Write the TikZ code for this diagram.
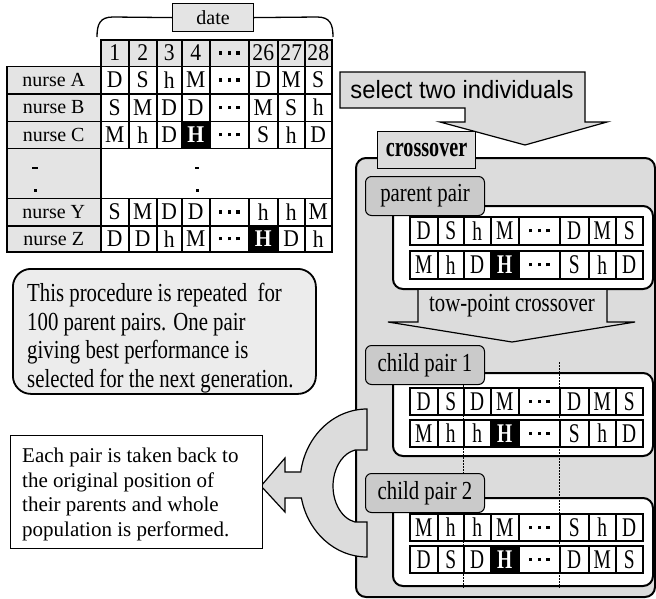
\documentclass[tikz,border=0pt]{standalone}
\usepackage{fontspec}
\setmainfont{Liberation Serif}
\newfontfamily\selfont[FakeStretch=0.95]{Liberation Sans}
\newfontfamily\stA[FakeStretch=0.72]{Liberation Serif}
\newfontfamily\stB[FakeStretch=0.8]{Liberation Serif}
\newfontfamily\stC[FakeStretch=0.9]{Liberation Serif}
\definecolor{lg}{HTML}{DCDCDC}
\definecolor{mg}{HTML}{CACACA}
\definecolor{tg}{HTML}{E4E4E4}
\definecolor{bg}{HTML}{ECECEC}
\newcommand\myfs[1]{\fontsize{#1}{#1}\selectfont}
\newcommand\dts{\rule{3.2pt}{3.2pt}\hspace{5.5pt}\rule{3.2pt}{3.2pt}\hspace{5.5pt}\rule{3.2pt}{3.2pt}}
\def\tabX{{100,128,156,181,209,248,277,304,331}}
\def\crX{{409,437,463,490,518,559,588,615,642}}
\newcommand\cellrow[6]{%
  \foreach \cT/\cS [count=\i from 0] in {#5} {%
    \pgfmathsetmacro\xl{#2[\i]}%
    \pgfmathsetmacro\xr{#2[\i+1]}%
    \node[cell,#6,\cS,anchor=north west,minimum width={(\xr-\xl)*1pt},minimum height={(#4-#3)*1pt}] (#1-\i) at (\xl,#3) {\cT};
  }}
\begin{document}
\begin{tikzpicture}[x=1pt,y=-1pt,
  cell/.style={draw,line width=1.5pt,inner sep=0pt,fill=white},
  tcell/.style={font=\stC\myfs{24}},
  xcell/.style={font=\stA\myfs{27}},
  nrm/.style={},
  dark/.style={fill=black,text=white,execute at begin node=\bfseries},
  hdr/.style={fill=tg},
  lab/.style={draw,line width=1.5pt,fill=tg,inner sep=0pt,font=\myfs{20},anchor=north west,minimum width=94pt},
  pairlab/.style={draw,line width=1pt,fill=mg,rounded corners=6pt,anchor=north west,minimum width=119pt,minimum height=39pt,inner sep=0pt,font=\stB\myfs{26}},
  pairbox/.style={draw,line width=2pt,fill=white,rounded corners=10pt,anchor=north west,minimum width=260pt,inner sep=0pt},
  cut/.style={line width=1pt,dash pattern=on 1.5pt off 1.5pt},
  bigarrow/.style={draw,line width=1.2pt,fill=lg}]
\useasboundingbox (0,0) rectangle (656,598);

% ---- date brace
\node[draw,line width=1.2pt,fill=tg,anchor=north west,minimum width=81pt,minimum height=28pt,inner sep=0pt,font=\myfs{20}] (date) at (172,3) {date};
\draw[line width=1.3pt] (date.west) -- (113,17) .. controls (100,17) and (97,24) .. (97,37);
\draw[line width=1.3pt] (date.east) -- (317,17) .. controls (330,17) and (333,24) .. (333,37);

% ---- nurse table
\cellrow{hd}{\tabX}{39}{65.5}{1/hdr,2/hdr,3/hdr,4/hdr,\dts/hdr,26/hdr,27/hdr,28/hdr}{tcell}
\node[lab,minimum height=27.5pt] (lA) at (6,65.5) {nurse A};
\cellrow{rA}{\tabX}{65.5}{93}{D/nrm,S/nrm,h/nrm,M/nrm,\dts/nrm,D/nrm,M/nrm,S/nrm}{tcell}
\node[lab,minimum height=27.5pt] (lB) at (6,93) {nurse B};
\cellrow{rB}{\tabX}{93}{120.5}{S/nrm,M/nrm,D/nrm,D/nrm,\dts/nrm,M/nrm,S/nrm,h/nrm}{tcell}
\node[lab,minimum height=27pt] (lC) at (6,120.5) {nurse C};
\cellrow{rC}{\tabX}{120.5}{147.5}{M/nrm,h/nrm,D/nrm,H/dark,\dts/nrm,S/nrm,h/nrm,D/nrm}{tcell}
\node[lab,minimum height=50pt] (ldots) at (6,147.5) {};
\node[draw,line width=1.5pt,fill=white,anchor=north west,minimum width=231pt,minimum height=50pt,inner sep=0pt] (rdots) at (100,147.5) {};
\fill (32,166.5) rectangle (38,168.5);
\fill (33.5,188.5) rectangle (36.5,191.5);
\fill (195,166.5) rectangle (199,168.5);
\fill (195.5,188.5) rectangle (198.5,191.5);
\node[lab,minimum height=27.5pt] (lY) at (6,197.5) {nurse Y};
\cellrow{rY}{\tabX}{197.5}{225}{S/nrm,M/nrm,D/nrm,D/nrm,\dts/nrm,h/nrm,h/nrm,M/nrm}{tcell}
\node[lab,minimum height=26pt] (lZ) at (6,225) {nurse Z};
\cellrow{rZ}{\tabX}{225}{251}{D/nrm,D/nrm,h/nrm,M/nrm,\dts/nrm,H/dark,D/nrm,h/nrm}{tcell}

% ---- select two individuals
\draw[bigarrow] (340,72) -- (585,72) -- (585,122) -- (607,122) -- (525,145) -- (440,122) -- (465,122) -- (465,108) -- (340,108) -- cycle;
\node[font=\selfont\myfs{25}] (sel) at (462,90) {select two individuals};

% ---- crossover container
\node[draw,line width=2pt,fill=lg,rounded corners=10pt,anchor=north west,minimum width=299pt,minimum height=439pt,inner sep=0pt] (xbox) at (355,157) {};
\node[draw,line width=1.2pt,fill=lg,anchor=north west,minimum width=98pt,minimum height=37pt,inner sep=0pt,font=\stA\myfs{28}\bfseries] (xlab) at (377,131) {crossover};

% ---- return arrow
\draw[bigarrow] (367,409) arc[start angle=270,end angle=188.55,x radius=67,y radius=74]
  -- (285,472) -- (285,458) -- (261,486) -- (285,512) -- (285,498) -- (301.4,498)
  arc[start angle=168.3,end angle=90,x radius=67,y radius=74]
  -- (367,522) -- (355,522)
  arc[start angle=100.7,end angle=259.3,x radius=27,y radius=36.6]
  -- (367,450) -- cycle;

% ---- parent pair
\node[pairbox,minimum height=83pt] (pbox) at (392,205) {};
\node[pairlab] (plab) at (365,176) {parent pair};
\cellrow{p1}{\crX}{216}{244}{D/nrm,S/nrm,h/nrm,M/nrm,\dts/nrm,D/nrm,M/nrm,S/nrm}{xcell}
\cellrow{p2}{\crX}{250}{278}{M/nrm,h/nrm,D/nrm,H/dark,\dts/nrm,S/nrm,h/nrm,D/nrm}{xcell}

% ---- tow-point crossover arrow
\draw[bigarrow] (418,290) -- (418,322) -- (388,322) -- (512,342) -- (635,322) -- (607,322) -- (607,290);
\node[font=\stB\myfs{26}] (tp) at (512,306) {tow-point crossover};

% ---- child boxes
\node[pairbox,minimum height=83pt] (c1box) at (392,372) {};
\node[pairbox,minimum height=88pt] (c2box) at (392,497) {};
\coordinate (cutA1) at (463,385);
\coordinate (cutA2) at (463,588);
\coordinate (cutB1) at (559,362);
\coordinate (cutB2) at (559,588);
\draw[cut] (cutA1) -- (cutA2);
\draw[cut] (cutB1) -- (cutB2);
\node[pairlab] (c1lab) at (365,345) {child pair 1};
\cellrow{c1a}{\crX}{387}{414}{D/nrm,S/nrm,D/nrm,M/nrm,\dts/nrm,D/nrm,M/nrm,S/nrm}{xcell}
\cellrow{c1b}{\crX}{419}{446}{M/nrm,h/nrm,h/nrm,H/dark,\dts/nrm,S/nrm,h/nrm,D/nrm}{xcell}
\node[pairlab] (c2lab) at (365,473) {child pair 2};
\cellrow{c2a}{\crX}{513}{540}{M/nrm,h/nrm,h/nrm,M/nrm,\dts/nrm,S/nrm,h/nrm,D/nrm}{xcell}
\cellrow{c2b}{\crX}{545}{572}{D/nrm,S/nrm,D/nrm,H/dark,\dts/nrm,D/nrm,M/nrm,S/nrm}{xcell}

% ---- left text boxes
\node[draw,line width=1.8pt,fill=bg,rounded corners=18pt,anchor=north west,minimum width=303pt,minimum height=125pt,inner sep=0pt] (proc) at (12,268) {};
\node[anchor=north west,align=left,inner sep=0pt,font=\stB\fontsize{26}{28.5}\selectfont] (proctxt) at (27,283) {This procedure is repeated\ \ for\\100 parent pairs. One pair\\giving best performance is\\selected for the next generation.};
\node[draw,line width=1.3pt,fill=white,anchor=north west,minimum width=252pt,minimum height=113pt,inner sep=0pt] (each) at (10,435) {};
\node[anchor=north west,align=left,inner sep=0pt,font=\fontsize{21}{24.5}\selectfont] (eachtxt) at (22,448) {Each pair is taken back to\\the original position of\\their parents and whole\\population is performed.};
\end{tikzpicture}
\end{document}
